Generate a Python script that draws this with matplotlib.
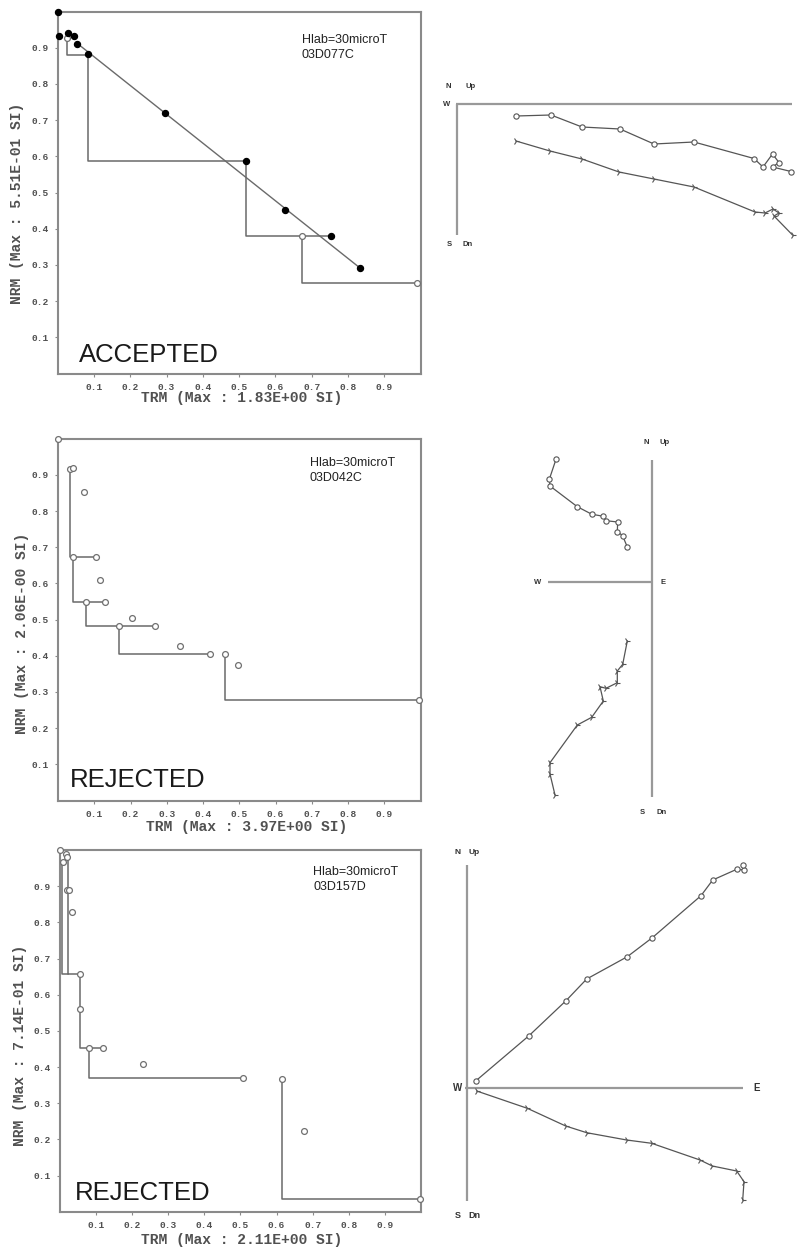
import matplotlib
matplotlib.use("Agg")
import matplotlib.pyplot as plt

# ---------------- data ----------------
ticks = [0.1, 0.2, 0.3, 0.4, 0.5, 0.6, 0.7, 0.8, 0.9]
tick_labels = ["0.1", "0.2", "0.3", "0.4", "0.5", "0.6", "0.7", "0.8", "0.9"]

hlab_text = "Hlab=30microT"
samples = ["03D077C", "03D042C", "03D157D"]
status = ["ACCEPTED", "REJECTED", "REJECTED"]
trm_labels = ["TRM (Max : 1.83E+00 SI)", "TRM (Max : 3.97E+00 SI)", "TRM (Max : 2.11E+00 SI)"]
nrm_labels = ["NRM (Max : 5.51E-01 SI)", "NRM (Max : 2.06E-00 SI)", "NRM (Max : 7.14E-01 SI)"]

# Arai 1 (accepted)
a1_fill_trm = [0.0, 0.005, 0.030, 0.046, 0.054, 0.085, 0.297, 0.518, 0.627, 0.753, 0.833]
a1_fill_nrm = [1.0, 0.933, 0.940, 0.933, 0.911, 0.883, 0.719, 0.588, 0.453, 0.379, 0.291]
a1_open_trm = [0.025, 0.672, 0.990]
a1_open_nrm = [0.928, 0.381, 0.249]
a1_chk_x0 = [0.027, 0.085, 0.518, 0.672]
a1_chk_y0 = [0.940, 0.883, 0.588, 0.381]
a1_chk_y1 = [0.880, 0.588, 0.379, 0.249]
a1_chk_x1 = [0.085, 0.518, 0.753, 0.990]
fit1_trm = [0.054, 0.835]
fit1_nrm = [0.912, 0.290]

# Arai 2 (rejected)
a2_open_trm = [0.0, 0.033, 0.040, 0.072, 0.040, 0.104, 0.116, 0.077, 0.129, 0.203,
               0.168, 0.267, 0.337, 0.419, 0.460, 0.496, 0.996]
a2_open_nrm = [1.0, 0.917, 0.920, 0.854, 0.674, 0.674, 0.611, 0.548, 0.548, 0.505,
               0.482, 0.482, 0.428, 0.406, 0.406, 0.375, 0.277]
a2_chk_x0 = [0.033, 0.040, 0.077, 0.168, 0.460]
a2_chk_y0 = [0.917, 0.674, 0.548, 0.482, 0.406]
a2_chk_y1 = [0.674, 0.548, 0.482, 0.406, 0.277]
a2_chk_x1 = [0.104, 0.129, 0.267, 0.419, 0.996]

# Arai 3 (rejected)
a3_open_trm = [0.0, 0.011, 0.017, 0.022, 0.020, 0.026, 0.035, 0.057, 0.057, 0.082,
               0.121, 0.230, 0.506, 0.616, 0.676, 0.997]
a3_open_nrm = [1.0, 0.968, 0.988, 0.982, 0.890, 0.890, 0.830, 0.657, 0.560, 0.452,
               0.452, 0.409, 0.371, 0.368, 0.224, 0.035]
a3_chk_x0 = [0.008, 0.024, 0.057, 0.082, 0.616]
a3_chk_y0 = [0.968, 0.982, 0.657, 0.452, 0.368]
a3_chk_y1 = [0.657, 0.657, 0.452, 0.371, 0.035]
a3_chk_x1 = [0.024, 0.057, 0.121, 0.506, 0.997]

# Zijderveld 1 (horizontal = E, vertical)
z1_circ_h = [0.59, 0.94, 1.25, 1.63, 1.97, 2.37, 2.97, 3.06, 3.155, 3.22, 3.155, 3.34]
z1_circ_v = [-0.12, -0.11, -0.23, -0.25, -0.40, -0.38, -0.545, -0.63, -0.50, -0.585, -0.63, -0.675]
z1_tri_h = [0.59, 0.93, 1.25, 1.62, 1.97, 2.37, 2.98, 3.08, 3.16, 3.22, 3.17, 3.355]
z1_tri_v = [-0.37, -0.47, -0.55, -0.68, -0.75, -0.83, -1.08, -1.09, -1.05, -1.09, -1.12, -1.31]
z1_axis_h = [-0.01, 3.35]
z1_axis_v = [-1.31, 0.0]

# Zijderveld 2
z2_circ_h = [-0.957, -1.024, -1.017, -0.744, -0.60, -0.484, -0.457, -0.34, -0.344, -0.292, -0.244]
z2_circ_v = [1.224, 1.024, 0.957, 0.75, 0.675, 0.654, 0.61, 0.597, 0.50, 0.462, 0.347]
z2_tri_h = [-0.244, -0.29, -0.344, -0.344, -0.457, -0.517, -0.484, -0.60, -0.744, -1.017, -1.017, -0.967]
z2_tri_v = [-0.593, -0.826, -0.893, -1.01, -1.066, -1.05, -1.193, -1.356, -1.433, -1.81, -1.923, -2.133]
z2_axis_h = [-1.04, 0.0]
z2_axis_v = [-2.15, 1.22]

# Zijderveld 3
z3_circ_h = [0.087, 0.617, 0.987, 1.194, 1.60, 1.85, 2.337, 2.454, 2.694, 2.767, 2.76]
z3_circ_v = [0.076, 0.526, 0.876, 1.093, 1.316, 1.506, 1.926, 2.083, 2.19, 2.183, 2.233]
z3_tri_h = [0.094, 0.60, 0.984, 1.194, 1.594, 1.844, 2.327, 2.45, 2.694, 2.767, 2.754]
z3_tri_v = [-0.027, -0.20, -0.377, -0.444, -0.517, -0.55, -0.717, -0.777, -0.827, -0.934, -1.117]
z3_axis_h = [-0.02, 2.76]
z3_axis_v = [-1.13, 2.23]

# ---------------- figure ----------------
W, H = 799, 1248
fig = plt.figure(figsize=(W / 100, H / 100), dpi=100)
fig.patch.set_facecolor("white")

MONO = ["Liberation Mono", "DejaVu Sans Mono"]
SANS = ["Liberation Sans", "DejaVu Sans"]
FRAME = "#8a8a8a"
LINE = "#6a6a6a"
TXT = "#505050"


def px_axes(left, top, right, bottom):
    return fig.add_axes([left / W, 1 - bottom / H, (right - left) / W, (bottom - top) / H])


def ftext(px, py, s, **kw):
    return fig.text(px / W, 1 - py / H, s, **kw)


def arai(rect, fill_x, fill_y, open_x, open_y, cx0, cy0, cy1, cx1, fit_x, fit_y,
         sample, stat, trm_lab, nrm_lab, hpos, spos, xlab_pos, ylab_pos):
    ax = px_axes(*rect)
    ax.set_xlim(0, 1)
    ax.set_ylim(0, 1)
    for sp in ax.spines.values():
        sp.set_color(FRAME)
        sp.set_linewidth(1.5)
    ax.set_xticks(ticks)
    ax.set_xticklabels(tick_labels)
    ax.set_yticks(ticks)
    ax.set_yticklabels(tick_labels)
    ax.tick_params(direction="out", length=2.5, width=0.8, color=FRAME,
                   labelsize=6.8, labelcolor=TXT, pad=4)
    for lab in ax.get_xticklabels() + ax.get_yticklabels():
        lab.set_fontfamily(MONO)
        lab.set_fontweight("bold")
    for x0, y0, y1, x1 in zip(cx0, cy0, cy1, cx1):
        ax.plot([x0, x0, x1], [y0, y1, y1], color=LINE, lw=1.1, clip_on=False, zorder=2)
    if fit_x:
        ax.plot(fit_x, fit_y, color=LINE, lw=1.0, zorder=2)
    if open_x:
        ax.plot(open_x, open_y, "o", mfc="white", mec="#707070", ms=4.2, mew=0.9,
                clip_on=False, zorder=3)
    if fill_x:
        ax.plot(fill_x, fill_y, "o", color="black", ms=4.3, clip_on=False, zorder=4)
    ftext(hpos[0], hpos[1], hlab_text, fontsize=9, family=SANS, color="#222222", va="center")
    ftext(hpos[0], hpos[1] + 15, sample, fontsize=9, family=SANS, color="#222222", va="center")
    ftext(spos[0], spos[1], stat, fontsize=18.5, family=SANS, color="#1a1a1a", va="center")
    ftext(xlab_pos[0], xlab_pos[1], trm_lab, fontsize=10.5, family=MONO, fontweight="bold",
          color=TXT, ha="center", va="center")
    ftext(ylab_pos[0], ylab_pos[1], nrm_lab, fontsize=10.5, family=MONO, fontweight="bold",
          color=TXT, ha="center", va="center", rotation=90)
    return ax


def zij(origin, rect, circ_h, circ_v, tri_h, tri_v, axis_h, axis_v, labels):
    left, top, right, bottom = rect
    ox, oy = origin
    s = 100.0
    ax = px_axes(left, top, right, bottom)
    ax.set_xlim((left - ox) / s, (right - ox) / s)
    ax.set_ylim((oy - bottom) / s, (oy - top) / s)
    ax.axis("off")
    ax.plot(axis_h, [0, 0], color="#999999", lw=1.6, solid_capstyle="butt")
    ax.plot([0, 0], axis_v, color="#999999", lw=1.6, solid_capstyle="butt")
    ax.plot(circ_h, circ_v, "-o", color="#555555", lw=0.9, ms=3.8, mfc="white",
            mec="#555555", mew=0.8)
    ax.plot(tri_h, tri_v, "-", color="#555555", lw=0.9, marker="4", ms=5, mew=0.8)
    for (px, py, t, fs) in labels:
        ftext(px, py, t, fontsize=fs, family=SANS, fontweight="bold", color="#333333",
              ha="center", va="center")
    return ax


arai((57.6, 11.5, 420.6, 373.5), a1_fill_trm, a1_fill_nrm, a1_open_trm, a1_open_nrm,
     a1_chk_x0, a1_chk_y0, a1_chk_y1, a1_chk_x1, fit1_trm, fit1_nrm,
     samples[0], status[0], trm_labels[0], nrm_labels[0],
     (302, 40), (79, 355), (242, 398), (17, 203))

arai((58.1, 438.8, 420.6, 800.5), [], [], a2_open_trm, a2_open_nrm,
     a2_chk_x0, a2_chk_y0, a2_chk_y1, a2_chk_x1, [], [],
     samples[1], status[1], trm_labels[1], nrm_labels[1],
     (310, 463), (70, 780), (247, 827), (22, 633))

arai((59.5, 850.1, 421.2, 1211.8), [], [], a3_open_trm, a3_open_nrm,
     a3_chk_x0, a3_chk_y0, a3_chk_y1, a3_chk_x1, [], [],
     samples[2], status[2], trm_labels[2], nrm_labels[2],
     (313, 872), (75, 1193), (242, 1240), (20, 1045))

zij((457, 104), (430, 70, 799, 255), z1_circ_h, z1_circ_v, z1_tri_h, z1_tri_v,
    z1_axis_h, z1_axis_v,
    [(448, 87, "N", 5.5), (471, 87, "Up", 5.5), (447, 104, "W", 5.5),
     (449, 245, "S", 5.5), (468, 245, "Dn", 5.5)])

zij((651.7, 581.7), (520, 430, 700, 825), z2_circ_h, z2_circ_v, z2_tri_h, z2_tri_v,
    z2_axis_h, z2_axis_v,
    [(646, 443, "N", 5.5), (665, 443, "Up", 5.5), (538, 582, "W", 5.5),
     (663, 582, "E", 5.5), (642, 812, "S", 5.5), (662, 812, "Dn", 5.5)])

zij((467.3, 1088.3), (440, 840, 799, 1230), z3_circ_h, z3_circ_v, z3_tri_h, z3_tri_v,
    z3_axis_h, z3_axis_v,
    [(458, 853, "N", 6), (474, 853, "Up", 6), (458, 1088, "W", 7),
     (757, 1088, "E", 7), (458, 1215, "S", 6.5), (474, 1215, "Dn", 6.5)])

fig.savefig("out.png", dpi=100)
